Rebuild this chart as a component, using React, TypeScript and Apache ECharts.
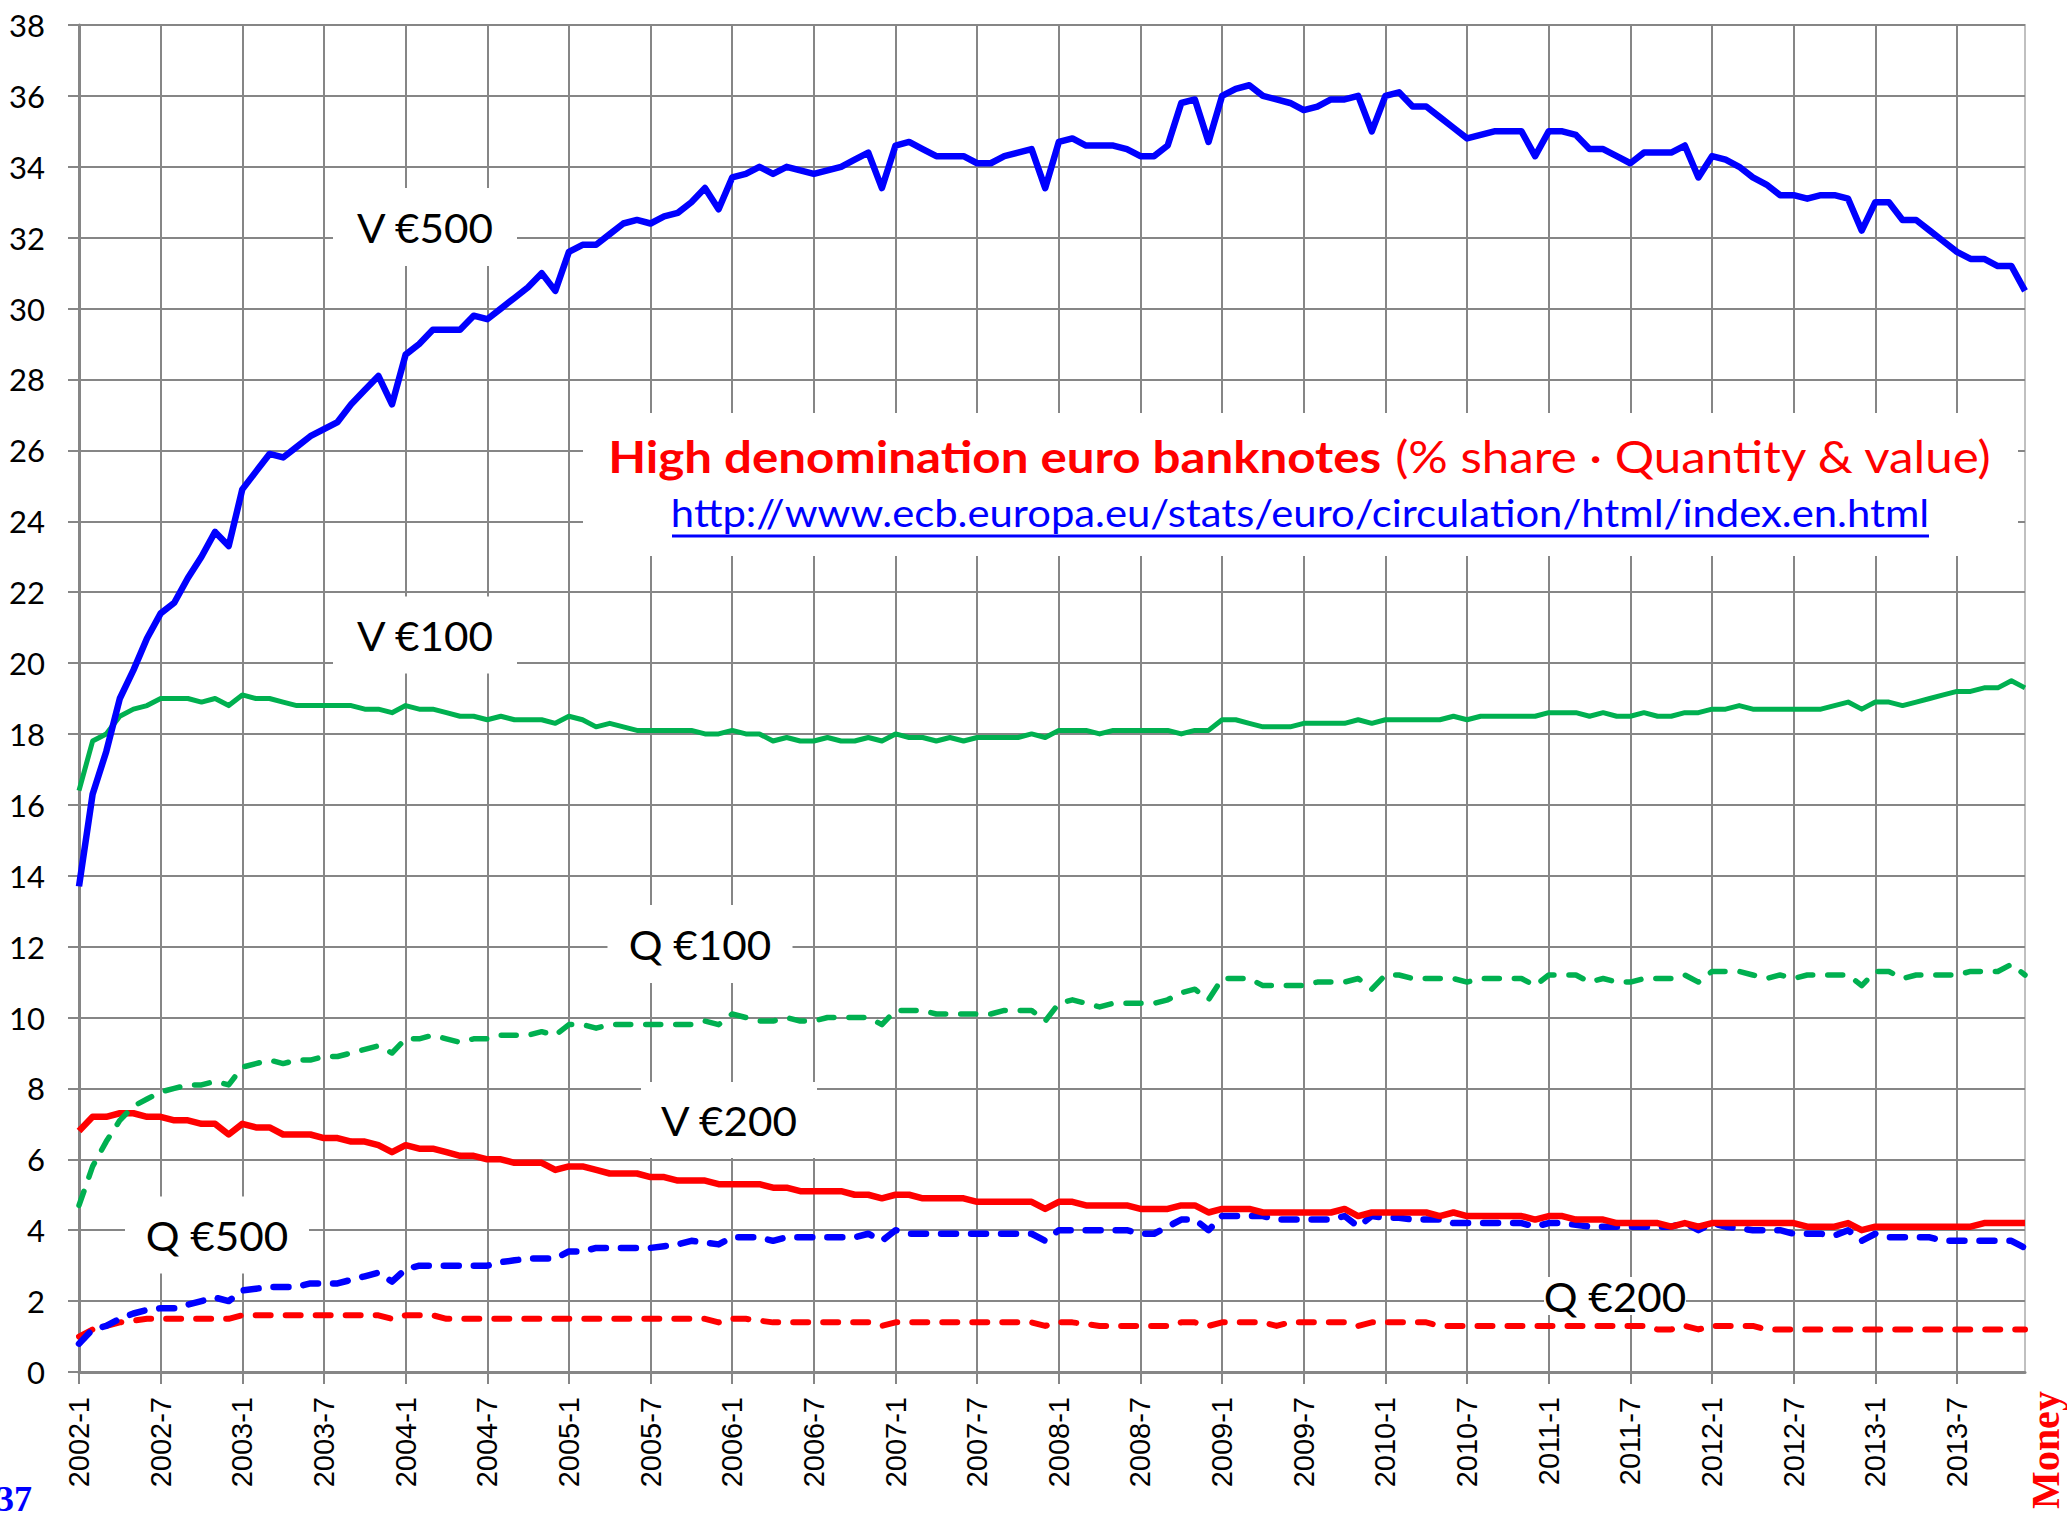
import React, { useEffect, useRef } from "react";
import * as echarts from "echarts";

const years = [2002, 2003, 2004, 2005, 2006, 2007, 2008, 2009, 2010, 2011, 2012, 2013];
const months: string[] = [];
years.forEach((y) => {
  for (let m = 1; m <= 12; m++) months.push(`${y}-${m}`);
});

const yTicks = { min: 0, max: 38, interval: 2 };

const v500 = [
  13.7, 16.3, 17.5, 19.0, 19.8, 20.7, 21.4, 21.7, 22.4, 23.0, 23.7, 23.3,
  24.9, 25.4, 25.9, 25.8, 26.1, 26.4, 26.6, 26.8, 27.3, 27.7, 28.1, 27.3,
  28.7, 29.0, 29.4, 29.4, 29.4, 29.8, 29.7, 30.0, 30.3, 30.6, 31.0, 30.5,
  31.6, 31.8, 31.8, 32.1, 32.4, 32.5, 32.4, 32.6, 32.7, 33.0, 33.4, 32.8,
  33.7, 33.8, 34.0, 33.8, 34.0, 33.9, 33.8, 33.9, 34.0, 34.2, 34.4, 33.4,
  34.6, 34.7, 34.5, 34.3, 34.3, 34.3, 34.1, 34.1, 34.3, 34.4, 34.5, 33.4,
  34.7, 34.8, 34.6, 34.6, 34.6, 34.5, 34.3, 34.3, 34.6, 35.8, 35.9, 34.7,
  36.0, 36.2, 36.3, 36.0, 35.9, 35.8, 35.6, 35.7, 35.9, 35.9, 36.0, 35.0,
  36.0, 36.1, 35.7, 35.7, 35.4, 35.1, 34.8, 34.9, 35.0, 35.0, 35.0, 34.3,
  35.0, 35.0, 34.9, 34.5, 34.5, 34.3, 34.1, 34.4, 34.4, 34.4, 34.6, 33.7,
  34.3, 34.2, 34.0, 33.7, 33.5, 33.2, 33.2, 33.1, 33.2, 33.2, 33.1, 32.2,
  33.0, 33.0, 32.5, 32.5, 32.2, 31.9, 31.6, 31.4, 31.4, 31.2, 31.2, 30.5,
];

const v100 = [
  16.4, 17.8, 18.0, 18.5, 18.7, 18.8, 19.0, 19.0, 19.0, 18.9, 19.0, 18.8,
  19.1, 19.0, 19.0, 18.9, 18.8, 18.8, 18.8, 18.8, 18.8, 18.7, 18.7, 18.6,
  18.8, 18.7, 18.7, 18.6, 18.5, 18.5, 18.4, 18.5, 18.4, 18.4, 18.4, 18.3,
  18.5, 18.4, 18.2, 18.3, 18.2, 18.1, 18.1, 18.1, 18.1, 18.1, 18.0, 18.0,
  18.1, 18.0, 18.0, 17.8, 17.9, 17.8, 17.8, 17.9, 17.8, 17.8, 17.9, 17.8,
  18.0, 17.9, 17.9, 17.8, 17.9, 17.8, 17.9, 17.9, 17.9, 17.9, 18.0, 17.9,
  18.1, 18.1, 18.1, 18.0, 18.1, 18.1, 18.1, 18.1, 18.1, 18.0, 18.1, 18.1,
  18.4, 18.4, 18.3, 18.2, 18.2, 18.2, 18.3, 18.3, 18.3, 18.3, 18.4, 18.3,
  18.4, 18.4, 18.4, 18.4, 18.4, 18.5, 18.4, 18.5, 18.5, 18.5, 18.5, 18.5,
  18.6, 18.6, 18.6, 18.5, 18.6, 18.5, 18.5, 18.6, 18.5, 18.5, 18.6, 18.6,
  18.7, 18.7, 18.8, 18.7, 18.7, 18.7, 18.7, 18.7, 18.7, 18.8, 18.9, 18.7,
  18.9, 18.9, 18.8, 18.9, 19.0, 19.1, 19.2, 19.2, 19.3, 19.3, 19.5, 19.3,
];

const q100 = [
  4.7, 5.8, 6.5, 7.1, 7.5, 7.7, 7.9, 8.0, 8.1, 8.1, 8.2, 8.1,
  8.6, 8.7, 8.8, 8.7, 8.8, 8.8, 8.9, 8.9, 9.0, 9.1, 9.2, 9.0,
  9.4, 9.4, 9.5, 9.4, 9.3, 9.4, 9.4, 9.5, 9.5, 9.5, 9.6, 9.5,
  9.8, 9.8, 9.7, 9.8, 9.8, 9.8, 9.8, 9.8, 9.8, 9.8, 9.9, 9.8,
  10.1, 10.0, 9.9, 9.9, 10.0, 9.9, 9.9, 10.0, 10.0, 10.0, 10.0, 9.8,
  10.2, 10.2, 10.2, 10.1, 10.1, 10.1, 10.1, 10.1, 10.2, 10.2, 10.2, 9.9,
  10.4, 10.5, 10.4, 10.3, 10.4, 10.4, 10.4, 10.4, 10.5, 10.7, 10.8, 10.5,
  11.1, 11.1, 11.1, 10.9, 10.9, 10.9, 10.9, 11.0, 11.0, 11.0, 11.1, 10.8,
  11.2, 11.2, 11.1, 11.1, 11.1, 11.1, 11.0, 11.1, 11.1, 11.1, 11.1, 10.9,
  11.2, 11.2, 11.2, 11.0, 11.1, 11.0, 11.0, 11.1, 11.1, 11.1, 11.2, 11.0,
  11.3, 11.3, 11.3, 11.2, 11.1, 11.2, 11.1, 11.2, 11.2, 11.2, 11.2, 10.9,
  11.3, 11.3, 11.1, 11.2, 11.2, 11.2, 11.2, 11.3, 11.3, 11.3, 11.5, 11.2,
];

const v200 = [
  6.8, 7.2, 7.2, 7.3, 7.3, 7.2, 7.2, 7.1, 7.1, 7.0, 7.0, 6.7,
  7.0, 6.9, 6.9, 6.7, 6.7, 6.7, 6.6, 6.6, 6.5, 6.5, 6.4, 6.2,
  6.4, 6.3, 6.3, 6.2, 6.1, 6.1, 6.0, 6.0, 5.9, 5.9, 5.9, 5.7,
  5.8, 5.8, 5.7, 5.6, 5.6, 5.6, 5.5, 5.5, 5.4, 5.4, 5.4, 5.3,
  5.3, 5.3, 5.3, 5.2, 5.2, 5.1, 5.1, 5.1, 5.1, 5.0, 5.0, 4.9,
  5.0, 5.0, 4.9, 4.9, 4.9, 4.9, 4.8, 4.8, 4.8, 4.8, 4.8, 4.6,
  4.8, 4.8, 4.7, 4.7, 4.7, 4.7, 4.6, 4.6, 4.6, 4.7, 4.7, 4.5,
  4.6, 4.6, 4.6, 4.5, 4.5, 4.5, 4.5, 4.5, 4.5, 4.6, 4.4, 4.5,
  4.5, 4.5, 4.5, 4.5, 4.4, 4.5, 4.4, 4.4, 4.4, 4.4, 4.4, 4.3,
  4.4, 4.4, 4.3, 4.3, 4.3, 4.2, 4.2, 4.2, 4.2, 4.1, 4.2, 4.1,
  4.2, 4.2, 4.2, 4.2, 4.2, 4.2, 4.2, 4.1, 4.1, 4.1, 4.2, 4.0,
  4.1, 4.1, 4.1, 4.1, 4.1, 4.1, 4.1, 4.1, 4.2, 4.2, 4.2, 4.2,
];

const q500 = [
  0.8, 1.2, 1.3, 1.5, 1.65, 1.75, 1.8, 1.8, 1.9, 2.0, 2.1, 2.0,
  2.3, 2.35, 2.4, 2.4, 2.4, 2.5, 2.5, 2.5, 2.6, 2.7, 2.8, 2.55,
  2.9, 3.0, 3.0, 3.0, 3.0, 3.0, 3.0, 3.1, 3.15, 3.2, 3.2, 3.2,
  3.4, 3.4, 3.5, 3.5, 3.5, 3.5, 3.5, 3.55, 3.6, 3.7, 3.65, 3.6,
  3.8, 3.8, 3.8, 3.7, 3.8, 3.8, 3.8, 3.8, 3.8, 3.8, 3.9, 3.7,
  4.0, 3.9, 3.9, 3.9, 3.9, 3.9, 3.9, 3.9, 3.9, 3.9, 3.9, 3.7,
  4.0, 4.0, 4.0, 4.0, 4.0, 4.0, 3.9, 3.9, 4.1, 4.3, 4.3, 4.0,
  4.4, 4.4, 4.4, 4.4, 4.3, 4.3, 4.3, 4.3, 4.3, 4.4, 4.1, 4.4,
  4.35, 4.35, 4.3, 4.3, 4.3, 4.2, 4.2, 4.2, 4.2, 4.2, 4.2, 4.1,
  4.2, 4.2, 4.15, 4.1, 4.1, 4.1, 4.1, 4.1, 4.1, 4.1, 4.2, 4.0,
  4.2, 4.1, 4.05, 4.0, 4.0, 4.0, 3.9, 3.9, 3.9, 3.85, 4.0, 3.7,
  3.9, 3.8, 3.8, 3.8, 3.8, 3.7, 3.7, 3.7, 3.7, 3.7, 3.7, 3.5,
];

const q200 = [
  1.0, 1.2, 1.3, 1.4, 1.45, 1.5, 1.5, 1.5, 1.5, 1.5, 1.5, 1.5,
  1.6, 1.6, 1.6, 1.6, 1.6, 1.6, 1.6, 1.6, 1.6, 1.6, 1.6, 1.5,
  1.6, 1.6, 1.6, 1.5, 1.5, 1.5, 1.5, 1.5, 1.5, 1.5, 1.5, 1.5,
  1.5, 1.5, 1.5, 1.5, 1.5, 1.5, 1.5, 1.5, 1.5, 1.5, 1.5, 1.4,
  1.5, 1.5, 1.45, 1.4, 1.4, 1.4, 1.4, 1.4, 1.4, 1.4, 1.4, 1.3,
  1.4, 1.4, 1.4, 1.4, 1.4, 1.4, 1.4, 1.4, 1.4, 1.4, 1.4, 1.3,
  1.4, 1.4, 1.35, 1.3, 1.3, 1.3, 1.3, 1.3, 1.3, 1.4, 1.4, 1.3,
  1.4, 1.4, 1.4, 1.4, 1.3, 1.4, 1.4, 1.4, 1.4, 1.4, 1.3, 1.4,
  1.4, 1.4, 1.4, 1.4, 1.3, 1.3, 1.3, 1.3, 1.3, 1.3, 1.3, 1.3,
  1.3, 1.3, 1.3, 1.3, 1.3, 1.3, 1.3, 1.3, 1.2, 1.2, 1.3, 1.2,
  1.3, 1.3, 1.3, 1.3, 1.2, 1.2, 1.2, 1.2, 1.2, 1.2, 1.2, 1.2,
  1.2, 1.2, 1.2, 1.2, 1.2, 1.2, 1.2, 1.2, 1.2, 1.2, 1.2, 1.2,
];

const BLUE = "#0000FF";
const GREEN = "#00B050";
const RED = "#FF0000";
const GRID = "#868686";
const LABEL_FONT = "Lato, 'Open Sans', sans-serif";

function labelBox(text: string, cx: number, cy: number, w: number, h: number) {
  return [
    {
      type: "rect",
      z: 1,
      shape: { x: cx - w / 2, y: cy - h / 2, width: w, height: h },
      style: { fill: "#ffffff" },
      silent: true,
    },
    {
      type: "text",
      z: 3,
      x: cx,
      y: cy,
      scaleX: 1.03,
      style: {
        text,
        fill: "#000",
        font: `41px ${LABEL_FONT}`,
        align: "center",
        verticalAlign: "middle",
        textAlign: "center",
        textVerticalAlign: "middle",
      },
      silent: true,
    },
  ];
}

export default function App() {
  const ref = useRef<HTMLDivElement>(null);

  useEffect(() => {
    document.body.style.margin = "0";
    if (!ref.current) return;
    const chart = echarts.init(ref.current, undefined, { renderer: "svg" });

    const lineSeries = (name: string, data: number[], color: string, width: number, dashed: boolean) => ({
      name,
      type: "line",
      data,
      symbol: "none",
      showSymbol: false,
      smooth: false,
      z: 2,
      lineStyle: {
        color,
        width,
        join: "round",
        cap: dashed ? "round" : "butt",
        type: dashed ? [15, 15] : "solid",
      },
      emphasis: { disabled: true },
    });

    const option: any = {
      animation: false,
      backgroundColor: "#ffffff",
      grid: {
        left: 79,
        right: 42,
        top: 25,
        bottom: 145,
        show: true,
        borderColor: "#c0c0c0",
        borderWidth: 2,
        outerBoundsMode: "none",
      },
      xAxis: {
        type: "category",
        data: months,
        boundaryGap: false,
        axisLine: { show: true, lineStyle: { color: GRID, width: 3 } },
        axisTick: { show: true, interval: 5, length: 12, lineStyle: { color: GRID, width: 2 } },
        axisLabel: {
          interval: 5,
          rotate: 90,
          margin: 25,
          color: "#000",
          fontSize: 29,
          fontFamily: "'Liberation Sans', Arial, sans-serif",
        },
        splitLine: { show: true, interval: 5, lineStyle: { color: GRID, width: 2 } },
      },
      yAxis: {
        type: "value",
        min: yTicks.min,
        max: yTicks.max,
        interval: yTicks.interval,
        axisLine: { show: true, lineStyle: { color: GRID, width: 3 } },
        axisTick: { show: true, length: 11, lineStyle: { color: GRID, width: 2 } },
        axisLabel: { margin: 34, color: "#000", fontSize: 31, fontFamily: LABEL_FONT },
        splitLine: { show: true, lineStyle: { color: GRID, width: 2 } },
      },
      series: [
        lineSeries("Q €200", q200, RED, 6, true),
        lineSeries("Q €500", q500, BLUE, 6.5, true),
        lineSeries("V €200", v200, RED, 6.5, false),
        lineSeries("Q €100", q100, GREEN, 5.5, true),
        lineSeries("V €100", v100, GREEN, 5, false),
        lineSeries("V €500", v500, BLUE, 6.5, false),
      ],
      graphic: {
        elements: [
          ...labelBox("V €500", 425, 227, 184, 78),
          ...labelBox("V €100", 425, 635, 184, 77),
          ...labelBox("Q €100", 700, 944, 185, 78),
          ...labelBox("V €200", 729, 1120, 176, 76),
          ...labelBox("Q €500", 217, 1235, 184, 77),
          ...labelBox("Q €200", 1615, 1296, 142, 38),
          {
            type: "rect",
            z: 1,
            shape: { x: 583, y: 413, width: 1435, height: 143 },
            style: { fill: "#ffffff" },
            silent: true,
          },
          {
            type: "text",
            z: 3,
            x: 1300,
            y: 456,
            scaleX: 1.12,
            style: {
              text: "{b|High denomination euro banknotes} {r|(% share · Quantity & value)}",
              align: "center",
              verticalAlign: "middle",
              textAlign: "center",
              textVerticalAlign: "middle",
              font: `44px ${LABEL_FONT}`,
              fill: RED,
              rich: {
                b: { fontWeight: "bold", fontSize: 44, fontFamily: LABEL_FONT, fill: RED, color: RED },
                r: { fontWeight: "normal", fontSize: 44, fontFamily: LABEL_FONT, fill: RED, color: RED },
              },
            },
            silent: true,
          },
          {
            type: "text",
            z: 3,
            x: 1300,
            y: 513,
            scaleX: 1.1,
            style: {
              text: "http://www.ecb.europa.eu/stats/euro/circulation/html/index.en.html",
              align: "center",
              verticalAlign: "middle",
              textAlign: "center",
              textVerticalAlign: "middle",
              font: `38px ${LABEL_FONT}`,
              fill: BLUE,
            },
            silent: true,
          },
          {
            type: "line",
            z: 3,
            shape: { x1: 672, y1: 536, x2: 1929, y2: 536 },
            style: { stroke: BLUE, lineWidth: 3 },
            silent: true,
          },
          {
            type: "text",
            z: 3,
            x: -4,
            y: 1517,
            style: {
              text: "37",
              align: "left",
              verticalAlign: "bottom",
              textAlign: "left",
              textVerticalAlign: "bottom",
              font: `bold 36px 'Liberation Serif', 'DejaVu Serif', serif`,
              fill: BLUE,
            },
            silent: true,
          },
          {
            type: "text",
            z: 3,
            x: 2045,
            y: 1450,
            rotation: Math.PI / 2,
            style: {
              text: "Money",
              align: "center",
              verticalAlign: "middle",
              textAlign: "center",
              textVerticalAlign: "middle",
              font: `bold 40px 'Liberation Serif', 'DejaVu Serif', serif`,
              fill: RED,
            },
            silent: true,
          },
        ],
      },
    };

    chart.setOption(option);
    return () => chart.dispose();
  }, []);

  return <div ref={ref} style={{ width: 2067, height: 1517 }} />;
}
